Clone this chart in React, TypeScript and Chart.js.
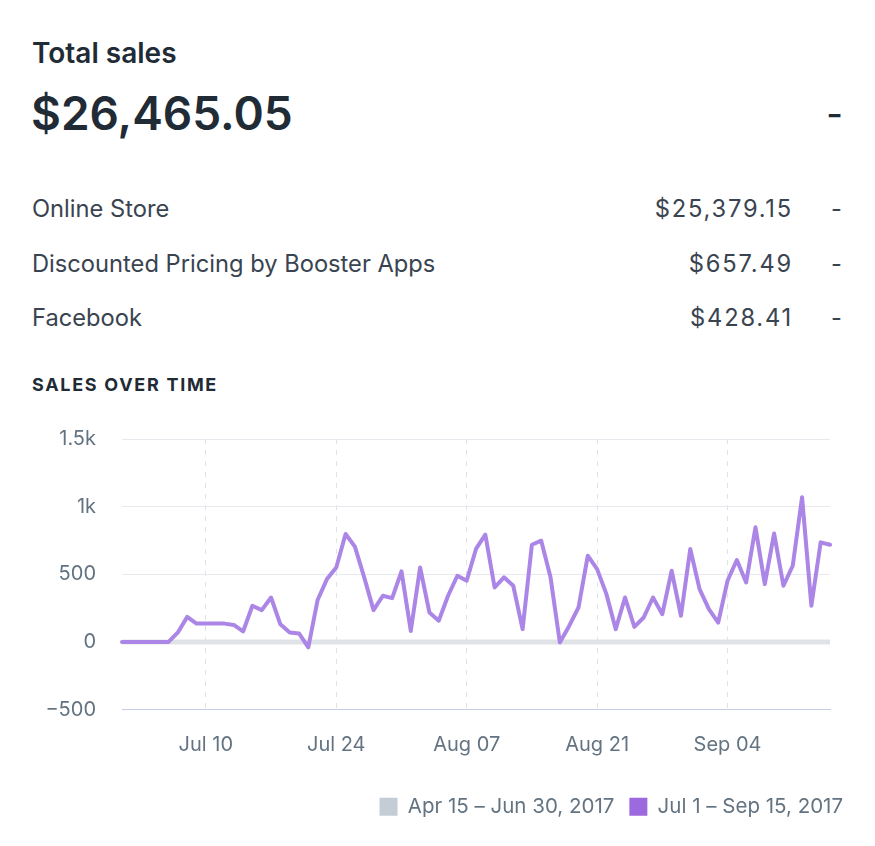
import React, { useEffect, useRef } from "react";
import { Chart, registerables } from "chart.js";

Chart.register(...registerables);

const dates: string[] = [
  "Jul 01", "Jul 02", "Jul 03", "Jul 04", "Jul 05", "Jul 06", "Jul 07", "Jul 08", "Jul 09", "Jul 10",
  "Jul 11", "Jul 12", "Jul 13", "Jul 14", "Jul 15", "Jul 16", "Jul 17", "Jul 18", "Jul 19", "Jul 20",
  "Jul 21", "Jul 22", "Jul 23", "Jul 24", "Jul 25", "Jul 26", "Jul 27", "Jul 28", "Jul 29", "Jul 30",
  "Jul 31", "Aug 01", "Aug 02", "Aug 03", "Aug 04", "Aug 05", "Aug 06", "Aug 07", "Aug 08", "Aug 09",
  "Aug 10", "Aug 11", "Aug 12", "Aug 13", "Aug 14", "Aug 15", "Aug 16", "Aug 17", "Aug 18", "Aug 19",
  "Aug 20", "Aug 21", "Aug 22", "Aug 23", "Aug 24", "Aug 25", "Aug 26", "Aug 27", "Aug 28", "Aug 29",
  "Aug 30", "Aug 31", "Sep 01", "Sep 02", "Sep 03", "Sep 04", "Sep 05", "Sep 06", "Sep 07", "Sep 08",
  "Sep 09", "Sep 10", "Sep 11", "Sep 12", "Sep 13", "Sep 14", "Sep 15",
];

const shownTicks: string[] = ["Jul 10", "Jul 24", "Aug 07", "Aug 21", "Sep 04"];

const currentSales: number[] = [
  0, 0, 0, 0, 0, 0, 70, 185, 135, 135,
  135, 135, 125, 77, 267, 235, 328, 130, 69, 62,
  -40, 310, 464, 550, 798, 704, 477, 235, 341, 323,
  521, 81, 550, 217, 156, 341, 489, 452, 687, 793,
  402, 477, 415, 94, 718, 748, 477, -5, 118, 254,
  637, 538, 353, 94, 328, 111, 180, 328, 205, 526,
  193, 687, 390, 242, 143, 452, 605, 439, 847, 427,
  802, 415, 563, 1069, 267, 736, 718,
];

const previousSales: number[] = [
  0, 0, 0, 0, 0, 0, 0, 0, 0, 0,
  0, 0, 0, 0, 0, 0, 0, 0, 0, 0,
  0, 0, 0, 0, 0, 0, 0, 0, 0, 0,
  0, 0, 0, 0, 0, 0, 0, 0, 0, 0,
  0, 0, 0, 0, 0, 0, 0, 0, 0, 0,
  0, 0, 0, 0, 0, 0, 0, 0, 0, 0,
  0, 0, 0, 0, 0, 0, 0, 0, 0, 0,
  0, 0, 0, 0, 0, 0, 0,
];

const seriesNames: string[] = ["Apr 15 – Jun 30, 2017", "Jul 1 – Sep 15, 2017"];

const channels: string[] = ["Online Store", "Discounted Pricing by Booster Apps", "Facebook"];
const channelValues: string[] = ["$25,379.15", "$657.49", "$428.41"];

const FONT = "Inter, 'Helvetica Neue', Arial, sans-serif";
const TEXT = "#212b36";
const ROW = "#3a4450";
const SUBDUED = "#637381";

export default function App() {
  const ref = useRef<HTMLCanvasElement | null>(null);

  useEffect(() => {
    if (!ref.current) return;
    const chart = new Chart(ref.current, {
      type: "line",
      data: {
        labels: dates,
        datasets: [
          {
            label: seriesNames[1],
            data: currentSales,
            borderColor: "#ab86e6",
            backgroundColor: "#9c6ade",
            borderWidth: 4,
            pointRadius: 0,
            tension: 0,
            borderJoinStyle: "round",
            borderCapStyle: "round",
            yAxisID: "y",
          },
          {
            label: seriesNames[0],
            data: previousSales,
            borderColor: "#dfe3e8",
            backgroundColor: "#c4cdd5",
            borderWidth: 5,
            pointRadius: 0,
            tension: 0,
            yAxisID: "y",
          },
        ],
      },
      options: {
        animation: false,
        responsive: false,
        maintainAspectRatio: false,
        layout: { padding: { top: 19, left: 0, right: 0, bottom: 4 } },
        plugins: {
          tooltip: { enabled: false },
          legend: {
            position: "bottom",
            align: "end",
            labels: {
              boxWidth: 18,
              boxHeight: 18,
              padding: 15,
              color: SUBDUED,
              font: { family: FONT, size: 20.5 },
              useBorderRadius: true,
              borderRadius: 4,
              generateLabels: () => [
                {
                  text: seriesNames[0],
                  fillStyle: "#c4cdd5",
                  strokeStyle: "#c4cdd5",
                  lineWidth: 0,
                  fontColor: SUBDUED,
                  datasetIndex: 1,
                  hidden: false,
                },
                {
                  text: seriesNames[1],
                  fillStyle: "#9c6ade",
                  strokeStyle: "#9c6ade",
                  lineWidth: 0,
                  fontColor: SUBDUED,
                  datasetIndex: 0,
                  hidden: false,
                },
              ],
            },
          },
        },
        scales: {
          x: {
            type: "category",
            offset: false,
            afterBuildTicks: (axis: any) => {
              axis.ticks = axis.ticks.filter((t: any) => shownTicks.includes(dates[t.value]));
            },
            afterFit: (axis: any) => {
              axis.height = 72;
            },
            ticks: {
              autoSkip: false,
              maxRotation: 0,
              padding: 23,
              color: SUBDUED,
              font: { family: FONT, size: 20 },
              callback: function (this: any, value: any) {
                return dates[value];
              },
            },
            grid: {
              color: "#dfe3e8",
              lineWidth: 1,
              drawTicks: false,
            },
            border: { display: true, color: "#c3cdea", width: 1, dash: [5, 6] },
          },
          y: {
            position: "left",
            min: -500,
            max: 1500,
            afterFit: (axis: any) => {
              axis.width = 122;
              axis.paddingTop = 0;
              axis.paddingBottom = 0;
            },
            ticks: {
              stepSize: 500,
              padding: 26,
              color: SUBDUED,
              font: { family: FONT, size: 20 },
              callback: (v: any) => {
                const n = Number(v);
                if (n === 1500) return "1.5k";
                if (n === 1000) return "1k";
                if (n < 0) return "\u2212" + Math.abs(n);
                return String(n);
              },
            },
            grid: {
              color: (ctx: any) => (ctx.tick && ctx.tick.value === -500 ? "#c3cdea" : "#e6e9ed"),
              lineWidth: 1,
              drawTicks: false,
            },
            border: { display: false },
          },
          y2: {
            position: "right",
            display: true,
            afterFit: (axis: any) => {
              axis.width = 28;
              axis.paddingTop = 0;
              axis.paddingBottom = 0;
            },
            ticks: { display: false },
            grid: { display: false, drawTicks: false },
            border: { display: false },
          },
        },
      },
    } as any);
    return () => chart.destroy();
  }, []);

  const rowTops = [195, 250, 304];

  return (
    <div style={{ position: "absolute", left: 0, top: 0, width: 875, height: 846, background: "#fff", fontFamily: FONT, color: TEXT }}>
      <div style={{ position: "absolute", left: 32, top: 37, fontSize: 28, fontWeight: 600, lineHeight: "32px" }}>Total sales</div>
      <div style={{ position: "absolute", left: 31, top: 86, fontSize: 46, fontWeight: 600, lineHeight: "54px" }}>$26,465.05</div>
      <div style={{ position: "absolute", right: 32, top: 92, fontSize: 36, fontWeight: 500, lineHeight: "44px" }}>-</div>
      {channels.map((c, i) => (
        <React.Fragment key={c}>
          <div style={{ position: "absolute", left: 32, top: rowTops[i], fontSize: 23.7, lineHeight: "28px", color: ROW }}>{c}</div>
          <div style={{ position: "absolute", right: 82, top: rowTops[i], fontSize: 23.7, lineHeight: "28px", color: ROW, letterSpacing: 1.8 }}>{channelValues[i]}</div>
          <div style={{ position: "absolute", right: 33, top: rowTops[i], fontSize: 23.7, lineHeight: "28px", color: ROW }}>-</div>
        </React.Fragment>
      ))}
      <div style={{ position: "absolute", left: 32, top: 374, fontSize: 18, fontWeight: 700, lineHeight: "22px", letterSpacing: 1.7 }}>SALES OVER TIME</div>
      <div style={{ position: "absolute", left: 0, top: 420, width: 858, height: 411 }}>
        <canvas ref={ref} width={858} height={411} style={{ width: 858, height: 411, display: "block" }} />
      </div>
    </div>
  );
}
